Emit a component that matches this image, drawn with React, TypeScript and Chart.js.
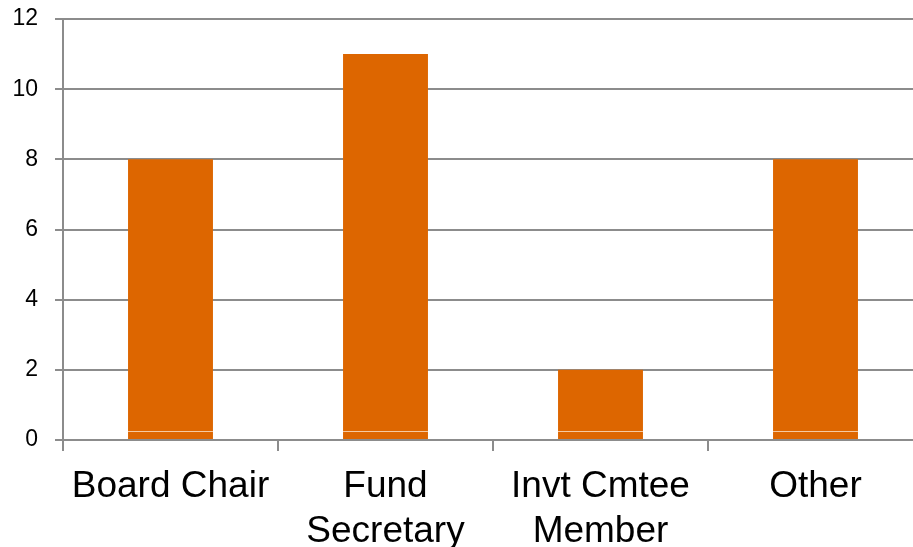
import React, { useEffect, useRef } from "react";
import { Chart, registerables } from "chart.js";

Chart.register(...registerables);

const categories: (string | string[])[] = ["Board Chair", ["Fund", "Secretary"], ["Invt Cmtee", "Member"], "Other"];
const values: number[] = [8, 11, 2, 8];
const yTicks: number[] = [0, 2, 4, 6, 8, 10, 12];
const innerLineValue = 0.25;

const FONT = "'Liberation Sans', Arial, sans-serif";

const innerLinePlugin = {
  id: "innerLine",
  afterDatasetsDraw(chart: any) {
    const meta = chart.getDatasetMeta(0);
    const y = chart.scales.y.getPixelForValue(innerLineValue);
    const ctx = chart.ctx;
    ctx.save();
    ctx.strokeStyle = "#f7c9a0";
    ctx.lineWidth = 1;
    meta.data.forEach((bar: any) => {
      const w = bar.width;
      ctx.beginPath();
      ctx.moveTo(bar.x - w / 2, Math.round(y) + 0.5);
      ctx.lineTo(bar.x + w / 2, Math.round(y) + 0.5);
      ctx.stroke();
    });
    ctx.restore();
  },
};

export default function App() {
  const ref = useRef<HTMLCanvasElement | null>(null);
  useEffect(() => {
    if (!ref.current) return;
    const chart = new Chart(ref.current, {
      type: "bar",
      data: {
        labels: categories,
        datasets: [
          {
            data: values,
            backgroundColor: "#dd6600",
            borderWidth: 0,
            categoryPercentage: 1,
            barPercentage: 0.395,
          },
        ],
      },
      plugins: [innerLinePlugin],
      options: {
        responsive: false,
        animation: false,
        layout: { padding: { top: 19, left: 0, right: 0, bottom: 0 } },
        plugins: { legend: { display: false }, tooltip: { enabled: false } },
        scales: {
          x: {
            grid: {
              drawOnChartArea: false,
              drawTicks: true,
              tickLength: 11,
              color: "#8c8c8c",
              lineWidth: 2,
            },
            border: { color: "#8c8c8c", width: 2 },
            ticks: {
              color: "#000",
              font: { family: FONT, size: 37 },
              padding: 14,
              maxRotation: 0,
              autoSkip: false,
            },
            afterFit: (s: any) => {
              s.height = 107;
              s.paddingLeft = 0;
              s.paddingRight = 0;
            },
          },
          y: {
            min: 0,
            max: 12,
            afterBuildTicks: (s: any) => {
              s.ticks = yTicks.map((v) => ({ value: v }));
            },
            grid: {
              color: "#8c8c8c",
              lineWidth: 2,
              drawTicks: true,
              tickLength: 8,
            },
            border: { color: "#8c8c8c", width: 2 },
            ticks: {
              color: "#000",
              font: { family: FONT, size: 23 },
              padding: 17,
            },
            afterFit: (s: any) => {
              s.width = 63;
              s.paddingTop = 0;
              s.paddingBottom = 0;
            },
          },
        },
      },
    });
    return () => chart.destroy();
  }, []);
  return (
    <div style={{ position: "absolute", left: 0, top: 0, width: 913, height: 547, overflow: "hidden", background: "#fff" }}>
      <canvas ref={ref} width={923} height={547} style={{ display: "block" }} />
    </div>
  );
}
